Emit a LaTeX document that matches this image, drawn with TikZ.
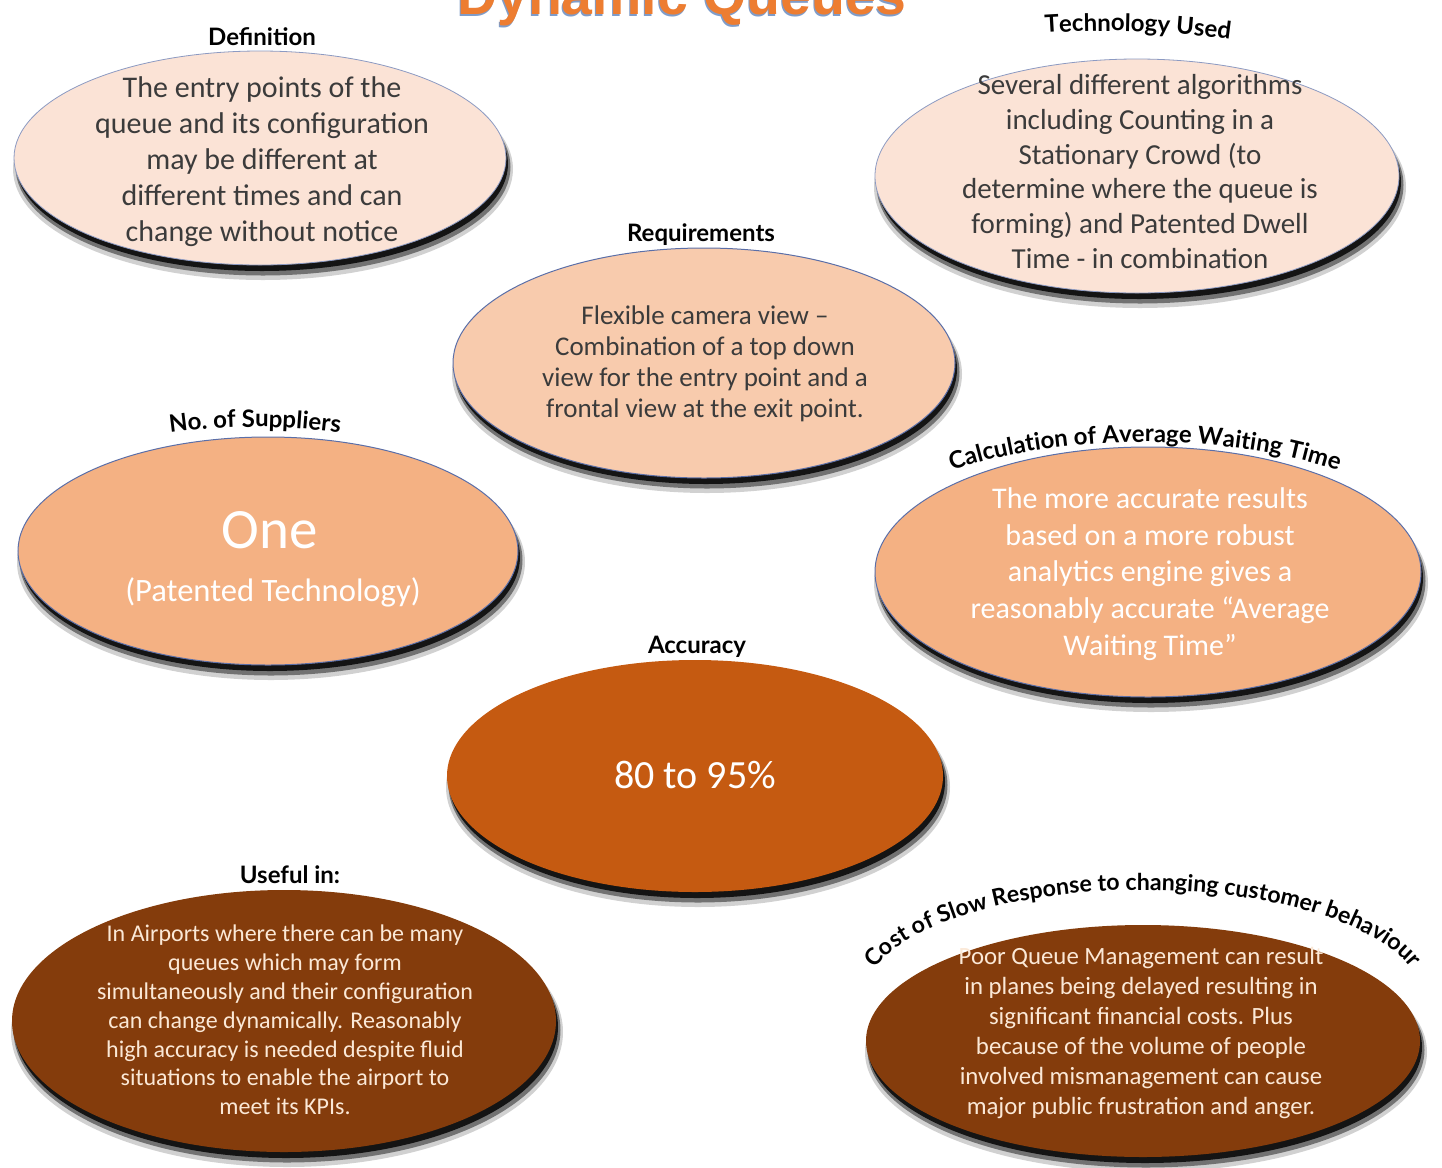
\documentclass[tikz,border=0pt]{standalone}
\usepackage{fontspec}
\setmainfont{Carlito}
\newfontfamily\lblfont{Lato}
\newfontfamily\titlefont{Liberation Sans}
\usetikzlibrary{shapes.geometric,decorations.text}
\definecolor{paleA}{HTML}{FBE3D6}
\definecolor{paleB}{HTML}{F8CBAD}
\definecolor{midA}{HTML}{F4B183}
\definecolor{deepA}{HTML}{C55A11}
\definecolor{darkA}{HTML}{843C0C}
\definecolor{rimblue}{HTML}{5B6FA8}
\definecolor{inkdark}{HTML}{3B3B3B}
\definecolor{cream}{HTML}{FBE8D6}
\definecolor{titleorange}{HTML}{ED7D31}
\definecolor{titleshadow}{HTML}{7F9CC9}
\newcommand\lblsel{\lblfont\bfseries\fontsize{12}{14}\selectfont}
\newcommand\lblsmall{\lblfont\bfseries\fontsize{11.6}{13.5}\selectfont}
\tikzset{
  blob/.style={ellipse, inner sep=0pt, outer sep=0pt},
  shadowsoft/.style={blob, fill=black, opacity=0.18},
  shadowmid/.style={blob, fill=black, opacity=0.45},
  shadowcore/.style={blob, fill=black!92},
  palefill/.style={blob, fill=paleA, draw=rimblue!70, line width=0.4pt},
  reqfill/.style={blob, fill=paleB, draw=rimblue, line width=0.5pt},
  midfill/.style={blob, fill=midA, draw=rimblue, line width=0.5pt},
  deepfill/.style={blob, fill=deepA},
  darkfill/.style={blob, fill=darkA},
  lbl/.style={font=\lblsel, text=black, inner sep=0pt},
  body/.style={align=center, inner sep=0pt},
  bodyink/.style={body, text=inkdark},
  bodywhite/.style={body, text=white},
  bodycream/.style={body, text=cream},
  curvedlbl/.style 2 args={decorate, decoration={text along path, text={|\lblsel|#1}, text align=#2}},
  curvedsmall/.style 2 args={decorate, decoration={text along path, text={|\lblsmall|#1}, text align=#2}}
}
\newcommand\bubble[6]{%
  \node[shadowsoft, minimum width=#4pt+4pt, minimum height=#5pt+4pt] at (#2+3,#3+11) {};
  \node[shadowmid, minimum width=#4pt+1.5pt, minimum height=#5pt+1.5pt] at (#2+3,#3+9) {};
  \node[shadowcore, minimum width=#4pt, minimum height=#5pt] at (#2+2,#3+6) {};
  \node[#6, minimum width=#4pt, minimum height=#5pt] (#1) at (#2,#3) {};
}
\begin{document}
\begin{tikzpicture}[x=0.5pt, y=-0.5pt]
\useasboundingbox (0,0) rectangle (1442,1168);
\fill[white] (0,0) rectangle (1442,1168);

% title (cut off at the top edge)
\begin{scope}
\clip (0,0) rectangle (1442,1168);
\node[anchor=base, text=titleshadow, inner sep=0pt, font=\titlefont\bfseries\fontsize{27.7}{30}\selectfont] (titleS) at (681,16) {Dynamic Queues};
\node[anchor=base, text=titleorange, inner sep=0pt, font=\titlefont\bfseries\fontsize{27.7}{30}\selectfont] (title) at (682,14) {Dynamic Queues};
\end{scope}

% bubbles
\bubble{def}{260}{158}{246}{107}{palefill}
\bubble{tech}{1137}{176}{262}{117}{palefill}
\bubble{req}{704}{363}{251}{115}{reqfill}
\bubble{sup}{268}{551}{250}{114}{midfill}
\bubble{calc}{1148}{572}{273}{125}{midfill}
\bubble{acc}{695}{776}{248}{116}{deepfill}
\bubble{use}{284}{1021}{272}{131}{darkfill}
\bubble{cost}{1143}{1041}{277}{116}{darkfill}

% straight labels
\node[lbl, anchor=base] (defL) at (262,45) {Definition};
\node[lbl, anchor=base] (reqL) at (701,241) {Requirements};
\node[lbl, anchor=base] (accL) at (697,653) {Accuracy};
\node[lbl, anchor=base] (useL) at (290,883) {Useful in:};

% curved labels
\path[curvedlbl={Technology Used}{left}] (1045,33) .. controls (1130,27.4) and (1215,33.5) .. (1300,51.3);
\path[curvedlbl={No. of Suppliers}{center}] (105,445.2) .. controls (205,420.9) and (305,420.9) .. (405,445.2);
\path[curvedlbl={Calculation of Average Waiting Time}{center}] ([shift={(1145,560)}]-168:295 and 118) arc[start angle=-168, end angle=-12, x radius=295, y radius=118];
\path[curvedsmall={Cost of Slow Response to changing customer behaviour}{center}] ([shift={(1143,1000)}]-179:280 and 110) arc[start angle=-179, end angle=-1, x radius=280, y radius=110];

% body texts
\node[bodyink, font=\fontsize{15}{18}\selectfont] (defT) at (262,162) {The entry points of the\\queue and its configuration\\may be different at\\different times and can\\change without notice};
\node[bodyink, font=\fontsize{14.5}{17.4}\selectfont] (techT) at (1140,171.5) {Several different algorithms\\including Counting in a\\Stationary Crowd (to\\determine where the queue is\\forming) and Patented Dwell\\Time - in combination};
\node[bodyink, font=\fontsize{13.5}{15.5}\selectfont] (reqT) at (705,363.5) {Flexible camera view –\\Combination of a top down\\view for the entry point and a\\frontal view at the exit point.};
\node[bodywhite, anchor=base, font=\fontsize{28.5}{34}\selectfont] (supT) at (270,548) {One};
\node[bodywhite, anchor=base, font=\fontsize{16.3}{19}\selectfont] (supT2) at (273,601) {(Patented Technology)};
\node[bodywhite, font=\fontsize{15}{18.4}\selectfont] (calcT) at (1150,574) {The more accurate results\\based on a more robust\\analytics engine gives a\\reasonably accurate “Average\\Waiting Time”};
\node[bodywhite, anchor=base, font=\fontsize{20}{24}\selectfont] (accT) at (695,788) {80 to 95\%};
\node[bodycream, font=\fontsize{12}{14.4}\selectfont] (useT) at (285,1020) {In Airports where there can be many\\queues which may form\\simultaneously and their configuration\\can change dynamically. Reasonably\\high accuracy is needed despite fluid\\situations to enable the airport to\\meet its KPIs.};
\node[bodycream, font=\fontsize{12.4}{15}\selectfont] (costT) at (1141,1033) {Poor Queue Management can result\\in planes being delayed resulting in\\significant financial costs. Plus\\because of the volume of people\\involved mismanagement can cause\\major public frustration and anger.};
\end{tikzpicture}
\end{document}
